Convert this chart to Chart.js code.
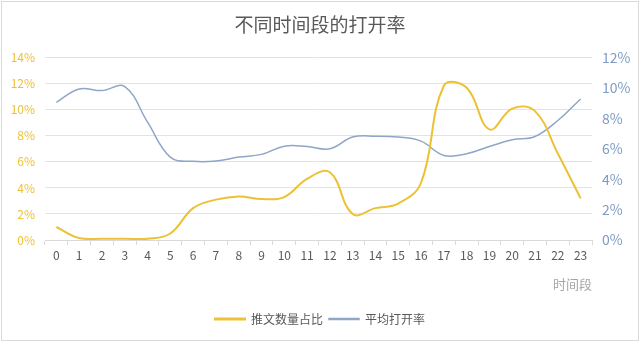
<!DOCTYPE html>
<html>
<head>
<meta charset="utf-8">
<script src="https://cdn.jsdelivr.net/npm/chart.js@4"></script>
<style>
  html, body { margin: 0; padding: 0; background: #fff; }
  #wrap { position: absolute; left: 1px; top: 1px; width: 636px; height: 338px; border: 1px solid #d9d9d9; }
</style>
</head>
<body>
<div id="wrap"><canvas id="chart" width="636" height="338"></canvas></div>
<script>
// ------- DATA -------
const hours = ["0","1","2","3","4","5","6","7","8","9","10","11","12","13","14","15","16","17","18","19","20","21","22","23"];
const postShare = [1.0, 0.15, 0.1, 0.1, 0.1, 0.5, 2.45, 3.1, 3.35, 3.15, 3.3, 4.7, 5.2, 2.0, 2.45, 2.8, 4.4, 11.85, 11.7, 8.5, 10.1, 9.9, 6.65, 3.2];
const openRate = [9.07, 9.95, 9.84, 10.1, 7.76, 5.46, 5.18, 5.2, 5.46, 5.64, 6.18, 6.16, 6.01, 6.78, 6.84, 6.78, 6.51, 5.57, 5.68, 6.16, 6.6, 6.82, 7.87, 9.29];
const seriesNames = ["推文数量占比", "平均打开率"];

const font = "'Microsoft YaHei', 'Noto Sans CJK SC', sans-serif";
const yellow = "#EDC136";
const blue = "#8FA6C8";

new Chart(document.getElementById("chart"), {
    type: "line",
    data: {
        labels: hours,
        datasets: [{
            label: seriesNames[0],
            data: postShare,
            borderColor: yellow,
            backgroundColor: yellow,
            borderWidth: 2,
            yAxisID: "y",
            pointRadius: 0,
            tension: 0.4
        }, {
            label: seriesNames[1],
            data: openRate,
            borderColor: blue,
            backgroundColor: blue,
            borderWidth: 1.5,
            yAxisID: "y1",
            pointRadius: 0,
            tension: 0.4
        }]
    },
    options: {
        responsive: false,
        animation: false,
        layout: { padding: { left: 0, right: 0, top: 6, bottom: 5 } },
        plugins: {
            title: {
                display: true,
                text: "不同时间段的打开率",
                color: "#595959",
                font: { family: font, size: 19, weight: "normal" },
                padding: { top: 5, bottom: 22 }
            },
            legend: {
                position: "bottom",
                labels: {
                    boxWidth: 30,
                    boxHeight: 1,
                    color: "#595959",
                    font: { family: font, size: 12 },
                    padding: 6
                }
            },
            tooltip: { enabled: false }
        },
        scales: {
            x: {
                offset: true,
                grid: { display: true, drawOnChartArea: false, drawTicks: true, tickLength: 5, offset: true, color: "#d9d9d9" },
                border: { color: "#d9d9d9" },
                ticks: { color: "#595959", font: { family: font, size: 12 }, maxRotation: 0, autoSkip: false, padding: 3 },
                title: {
                    display: true,
                    text: "时间段",
                    align: "end",
                    color: "#a6a6a6",
                    font: { family: font, size: 13 },
                    padding: { top: 11, bottom: 15 }
                }
            },
            y: {
                position: "left",
                min: 0,
                max: 14,
                ticks: {
                    stepSize: 2,
                    color: yellow,
                    font: { family: font, size: 12 },
                    padding: 10,
                    callback: v => v + "%"
                },
                grid: { color: "#e3e3e3", drawTicks: false },
                border: { display: false },
                afterFit: s => { s.width = 43; }
            },
            y1: {
                position: "right",
                min: 0,
                max: 12,
                ticks: {
                    stepSize: 2,
                    color: "#7f9cc2",
                    font: { family: font, size: 14 },
                    padding: 10,
                    callback: v => v + "%"
                },
                grid: { display: false, drawTicks: false },
                border: { display: false },
                afterFit: s => { s.width = 46; }
            }
        }
    }
});
</script>
</body>
</html>
